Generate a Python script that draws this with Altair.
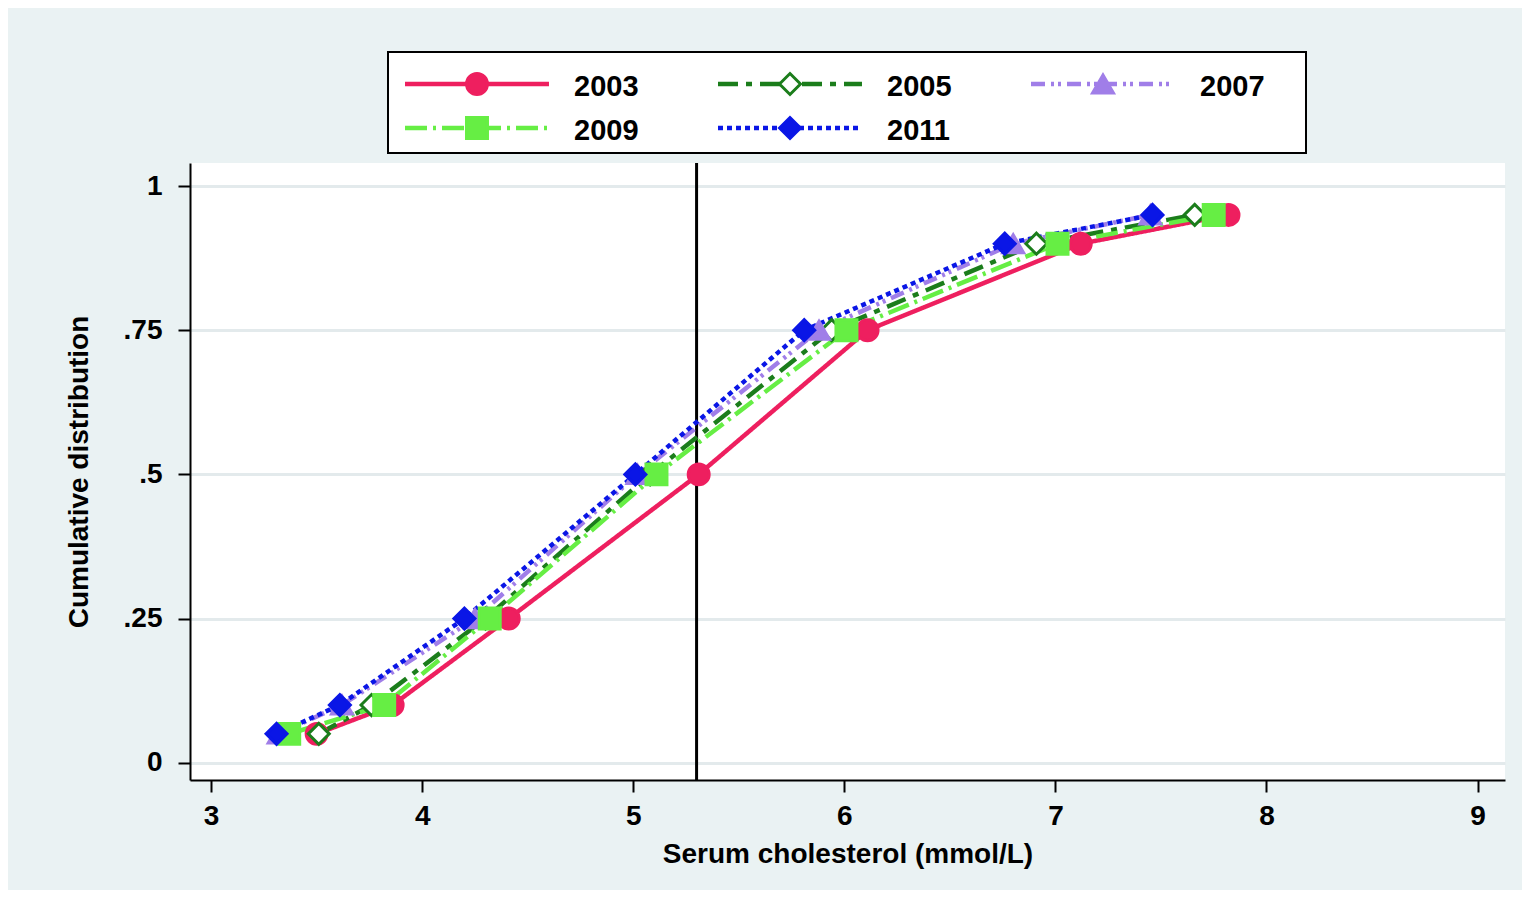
import altair as alt
import pandas as pd

years = ["2003", "2005", "2007", "2009", "2011"]
probs = [0.05, 0.10, 0.25, 0.50, 0.75, 0.90, 0.95]
q2003 = [3.50, 3.86, 4.41, 5.31, 6.11, 7.12, 7.82]
q2005 = [3.51, 3.76, 4.30, 5.08, 5.94, 6.91, 7.66]
q2007 = [3.32, 3.62, 4.25, 5.02, 5.88, 6.80, 7.45]
q2009 = [3.37, 3.82, 4.32, 5.11, 6.01, 7.01, 7.75]
q2011 = [3.31, 3.61, 4.20, 5.01, 5.81, 6.76, 7.46]
cutoff = 5.3

rows = []
for yr, qs in zip(years, [q2003, q2005, q2007, q2009, q2011]):
    for p, q in zip(probs, qs):
        rows.append({"year": yr, "chol": q, "cum": p})
df = pd.DataFrame(rows)

# legend grid: 3 columns, 2 rows
leg = pd.DataFrame({"year": years, "col": [0, 1, 2, 0, 1], "row": [0, 0, 0, 1, 1]})
leg["x0"] = leg["col"]
leg["x1"] = leg["col"] + 0.46
leg["xm"] = leg["col"] + 0.23
leg["xt"] = leg["col"] + 0.54

colors = ["#ee1f5f", "#1b7d1b", "#a07ee8", "#66ee44", "#0a16e6"]
fills = ["#ee1f5f", "#ffffff", "#a07ee8", "#66ee44", "#0a16e6"]
shapes = ["circle", "diamond", "triangle-up", "square", "diamond"]
dashes = [[1, 0], [20, 8, 6, 8], [14, 6, 3, 4, 3, 6], [22, 6, 3, 6], [5, 4]]

col = alt.Color("year:N", scale=alt.Scale(domain=years, range=colors), legend=None)
dash = alt.StrokeDash("year:N", scale=alt.Scale(domain=years, range=dashes), legend=None)
fil = alt.Fill("year:N", scale=alt.Scale(domain=years, range=fills), legend=None)
shp = alt.Shape("year:N", scale=alt.Scale(domain=years, range=shapes), legend=None)

xsc = alt.Scale(domain=[2.9, 9.13], nice=False, zero=False)
ysc = alt.Scale(domain=[-0.03, 1.04], nice=False)
xs = alt.X("chol:Q", scale=xsc,
           axis=alt.Axis(values=[3, 4, 5, 6, 7, 8, 9], format="d", grid=False,
                         title="Serum cholesterol (mmol/L)"))
ys = alt.Y("cum:Q", scale=ysc,
           axis=alt.Axis(values=[0, 0.25, 0.5, 0.75, 1], title="Cumulative distribution",
                         labelExpr="datum.value == 0 ? '0' : datum.value == 1 ? '1' : replace(format(datum.value, '.2~f'), '0.', '.')"))

lines = alt.Chart(df).mark_line(strokeWidth=4.5).encode(x=xs, y=ys, color=col, strokeDash=dash)
points = alt.Chart(df).mark_point(size=440, strokeWidth=3, opacity=1).encode(
    x=alt.X("chol:Q", scale=xsc, axis=None), y=alt.Y("cum:Q", scale=ysc, axis=None),
    color=col, fill=fil, shape=shp)
rule = alt.Chart(pd.DataFrame({"x": [cutoff]})).mark_rule(color="black", strokeWidth=3).encode(
    x=alt.X("x:Q", scale=xsc, axis=None))

# legend drawn above the plot area with its own pixel-range scales
lx = alt.Scale(domain=[0, 3], range=[215, 1154])
ly = alt.Scale(domain=[0, 1], range=[-79, -35])
box = alt.Chart(pd.DataFrame({"a": [0]})).mark_rect(fill="white", stroke="black", strokeWidth=2).encode(
    x=alt.value(198), x2=alt.value(1116), y=alt.value(-111), y2=alt.value(-10))
leg_lines = alt.Chart(leg).mark_rule(strokeWidth=4.5).encode(
    x=alt.X("x0:Q", scale=lx, axis=None), x2="x1:Q",
    y=alt.Y("row:Q", scale=ly, axis=None), color=col, strokeDash=dash)
leg_pts = alt.Chart(leg).mark_point(size=440, strokeWidth=3, opacity=1).encode(
    x=alt.X("xm:Q", scale=lx, axis=None), y=alt.Y("row:Q", scale=ly, axis=None),
    color=col, fill=fil, shape=shp)
leg_txt = alt.Chart(leg).mark_text(align="left", baseline="middle", fontSize=29, fontWeight="bold",
                                   font="Liberation Sans", color="black", dy=3).encode(
    x=alt.X("xt:Q", scale=lx, axis=None), y=alt.Y("row:Q", scale=ly, axis=None), text="year:N")

chart = alt.layer(rule, lines, points, box, leg_lines, leg_pts, leg_txt).resolve_scale(
    x="independent", y="independent"
).properties(
    width=1315, height=617, background="#eaf2f3",
    autosize=alt.AutoSizeParams(type="none"),
    padding={"left": 182, "top": 155, "right": 17, "bottom": 110},
).configure_view(fill="white", stroke=None).configure_axis(
    labelFont="Liberation Sans", labelFontSize=28, labelFontWeight="bold", labelColor="black",
    titleFont="Liberation Sans", titleFontSize=28, titleFontWeight="bold", titleColor="black",
    domainColor="black", domainWidth=2, tickColor="black", tickWidth=2, tickSize=12,
    gridColor="#e3eaec", gridWidth=3, labelPadding=6,
).configure_axisX(titlePadding=10, labelPadding=10).configure_axisY(titlePadding=30, labelPadding=16)

chart.save("out.html", embed_options={"renderer": "svg", "actions": False})
